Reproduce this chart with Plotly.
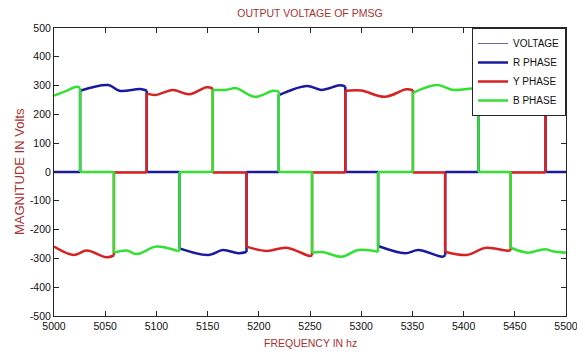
import plotly.graph_objects as go

# ---------------- data ----------------
x_ticks = [5000, 5050, 5100, 5150, 5200, 5250, 5300, 5350, 5400, 5450, 5500]
y_ticks = [-500, -400, -300, -200, -100, 0, 100, 200, 300, 400, 500]
y_tick_text = ["-500", "-400", "-300", "-200", "-100", "0", "100", "200", "300", "400", "500"]

voltage_x = [5000, 5500]
voltage_y = [0, 0]

# Each phase: level segments separated by None (the steps between them are vertical)
# R PHASE (blue)
r_phase_x = [5000, 5025.5, None,
             5025.5, 5053, 5064, 5084, 5090.5, None,
             5090.5, 5122.5, None,
             5122.5, 5151, 5165, 5180, 5188, None,
             5188, 5219.5, None,
             5219.5, 5247, 5261, 5279, 5284.5, None,
             5284.5, 5316.5, None,
             5316.5, 5343, 5356, 5379, 5382, None,
             5382, 5414.5, None,
             5414.5, 5447, 5480, None,
             5480, 5500]
r_phase_y = [0, 0, None,
             282, 302, 282, 288, 283, None,
             0, 0, None,
             -265, -288, -271, -282, -278, None,
             0, 0, None,
             267, 299, 285, 301, 297, None,
             0, 0, None,
             -257, -282, -271, -294, -290, None,
             0, 0, None,
             280, 290, 292, None,
             0, 0]

# Y PHASE (red)
y_phase_x = [5000, 5019, 5032, 5051, 5058.5, None,
             5058.5, 5090.5, None,
             5090.5, 5099, 5116, 5132, 5149, 5155, None,
             5155, 5188, None,
             5188, 5208, 5227, 5250, 5252, None,
             5252, 5284.5, None,
             5284.5, 5300, 5323, 5344, 5350.5, None,
             5350.5, 5382, None,
             5382, 5403, 5422, 5442, 5446, None,
             5446, 5480, None,
             5480, 5490, 5500]
y_phase_y = [-259, -288, -273, -296, -290, None,
             -2, -2, None,
             273, 267, 285, 270, 294, 290, None,
             -2, -2, None,
             -259, -274, -263, -292, -290, None,
             -2, -2, None,
             282, 283, 261, 287, 284, None,
             -2, -2, None,
             -277, -288, -263, -273, -272, None,
             -2, -2, None,
             270, 280, 290]

# B PHASE (green)
b_phase_x = [5000, 5011, 5022, 5025.5, None,
             5025.5, 5058.5, None,
             5058.5, 5071, 5081, 5100, 5120, 5122.5, None,
             5122.5, 5155, None,
             5155, 5169, 5178, 5196, 5214, 5219.5, None,
             5219.5, 5252, None,
             5252, 5262, 5281, 5297, 5316.5, None,
             5316.5, 5350.5, None,
             5350.5, 5374, 5390, 5408, 5414.5, None,
             5414.5, 5446, None,
             5446, 5463, 5479, 5488, 5500]
b_phase_y = [265, 280, 296, 292, None,
             0, 0, None,
             -280, -273, -285, -259, -273, -275, None,
             0, 0, None,
             285, 286, 291, 261, 282, 280, None,
             0, 0, None,
             -280, -278, -294, -271, -277, None,
             0, 0, None,
             275, 302, 285, 290, 288, None,
             0, 0, None,
             -263, -280, -268, -276, -280]


def split_levels(xs, ys):
    segs, cx, cy = [], [], []
    for x, y in zip(xs, ys):
        if x is None:
            segs.append((cx, cy))
            cx, cy = [], []
        else:
            cx.append(x)
            cy.append(y)
    segs.append((cx, cy))
    return segs


def with_steps(xs, ys):
    """Add the vertical steps joining consecutive level segments."""
    segs = split_levels(xs, ys)
    ox, oy = [], []
    for i, (sx, sy) in enumerate(segs):
        ox += sx + [None]
        oy += sy + [None]
        if i + 1 < len(segs):
            nx, ny = segs[i + 1]
            ox += [sx[-1], nx[0], None]
            oy += [sy[-1], ny[0], None]
    return ox, oy


# ---------------- styling ----------------
RED_TXT = "#a83232"
FONT = "Liberation Sans, Arial, sans-serif"

# The page body has an 8 px margin, so the figure is made 8 px smaller.
W, H = 577, 346
ML, MR, MT, MB = 46, 19, 20, 38

fig = go.Figure()
fig.add_trace(go.Scatter(x=voltage_x, y=voltage_y, mode="lines", name="VOLTAGE",
                         line=dict(color="#6868a0", width=1)))
for name, color, xs, ys in [("R PHASE", "#1a1aa0", r_phase_x, r_phase_y),
                            ("Y PHASE", "#d62222", y_phase_x, y_phase_y),
                            ("B PHASE", "#35e035", b_phase_x, b_phase_y)]:
    px_, py_ = with_steps(xs, ys)
    fig.add_trace(go.Scatter(x=px_, y=py_, mode="lines", name=name, connectgaps=False,
                             line=dict(color=color, width=2.5, shape="spline", smoothing=1)))

axis_common = dict(showgrid=False, zeroline=False, showline=True, linecolor="#262626",
                   linewidth=1, mirror="ticks", ticks="inside", ticklen=5,
                   tickcolor="#262626", automargin=False,
                   tickfont=dict(family=FONT, size=10.5, color="#111"))

plot_w = W - ML - MR
plot_h = H - MT - MB

fig.update_layout(
    template="none",
    width=W, height=H,
    margin=dict(l=ML, r=MR, t=MT, b=MB, autoexpand=False),
    paper_bgcolor="white", plot_bgcolor="white",
    title=dict(text="OUTPUT VOLTAGE OF PMSG", x=0.5, xref="paper",
               y=1 - 5 / H, yref="container", yanchor="middle", xanchor="center",
               font=dict(family=FONT, size=10.5, color=RED_TXT)),
    xaxis=dict(range=[5000, 5500], tickvals=x_ticks, **axis_common),
    yaxis=dict(range=[-500, 500], tickvals=y_ticks, ticktext=y_tick_text, **axis_common),
    legend=dict(x=1, y=1, xanchor="right", yanchor="top", bgcolor="white",
                bordercolor="#262626", borderwidth=1,
                font=dict(family=FONT, size=10, color="#111"), tracegroupgap=0),
    showlegend=True,
    annotations=[
        dict(text="FREQUENCY IN hz", xref="paper", yref="paper", x=0.5,
             y=-27 / plot_h, xanchor="center", yanchor="middle", showarrow=False,
             font=dict(family=FONT, size=10.5, color=RED_TXT)),
        dict(text="MAGNITUDE IN Volts", xref="paper", yref="paper",
             x=-35 / plot_w, y=0.5, xanchor="center", yanchor="middle",
             textangle=-90, showarrow=False,
             font=dict(family=FONT, size=13, color=RED_TXT)),
    ],
)

fig.write_html("out.html")
